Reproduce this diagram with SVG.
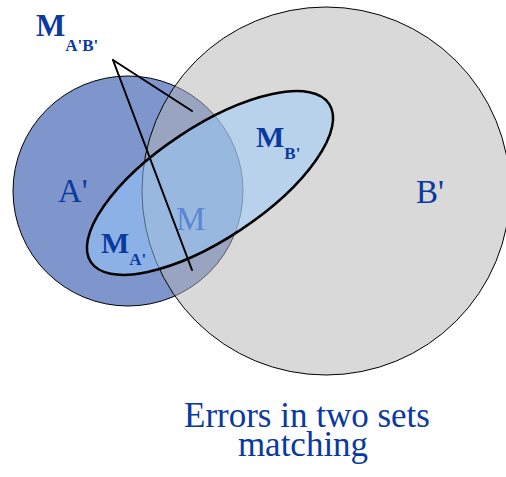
<svg xmlns="http://www.w3.org/2000/svg" width="506" height="477" viewBox="0 0 506 477">
<style>
.lbl{font-family:"Liberation Serif","Times New Roman",serif;fill:#0a3aa0}
.b{font-weight:bold}
.conn{stroke:#000;stroke-width:2;fill:none;stroke-linecap:round}
</style>
<rect width="506" height="477" fill="#fff"/>
<g id="setA">
<circle cx="128" cy="191" r="115" fill="#7f96cc" stroke="#000" stroke-width="1"/>
</g>
<g id="setB">
<circle cx="326" cy="191" r="184" fill="#b3b3b3" fill-opacity="0.5" stroke="#000" stroke-width="1"/>
</g>
<g id="setM">
<ellipse cx="210" cy="183" rx="143" ry="56" transform="rotate(-33.6 210 183)" fill="#99ccff" fill-opacity="0.5" stroke="#000" stroke-width="2.5"/>
</g>
<g id="labels">
<text class="lbl" x="58" y="202" font-size="33">A'</text>
<text class="lbl" x="416" y="203" font-size="33">B'</text>
<text class="lbl" x="176" y="230" font-size="33" style="fill:#5a86d4">M</text>
<text class="lbl b" x="101" y="253" font-size="30">M<tspan font-size="17" dy="12">A'</tspan></text>
<text class="lbl b" x="256" y="147" font-size="30">M<tspan font-size="17" dy="12">B'</tspan></text>
<text class="lbl b" x="36" y="36" font-size="31">M<tspan font-size="17" dy="15">A'B'</tspan></text>
<text class="lbl" font-size="35" text-anchor="middle"><tspan x="307" y="427">Errors in two sets</tspan><tspan x="303" y="456">matching</tspan></text>
</g>
<g id="connectors">
<line class="conn" x1="113" y1="60" x2="192" y2="111"/>
<line class="conn" x1="113" y1="60" x2="192" y2="270"/>
</g>
</svg>
